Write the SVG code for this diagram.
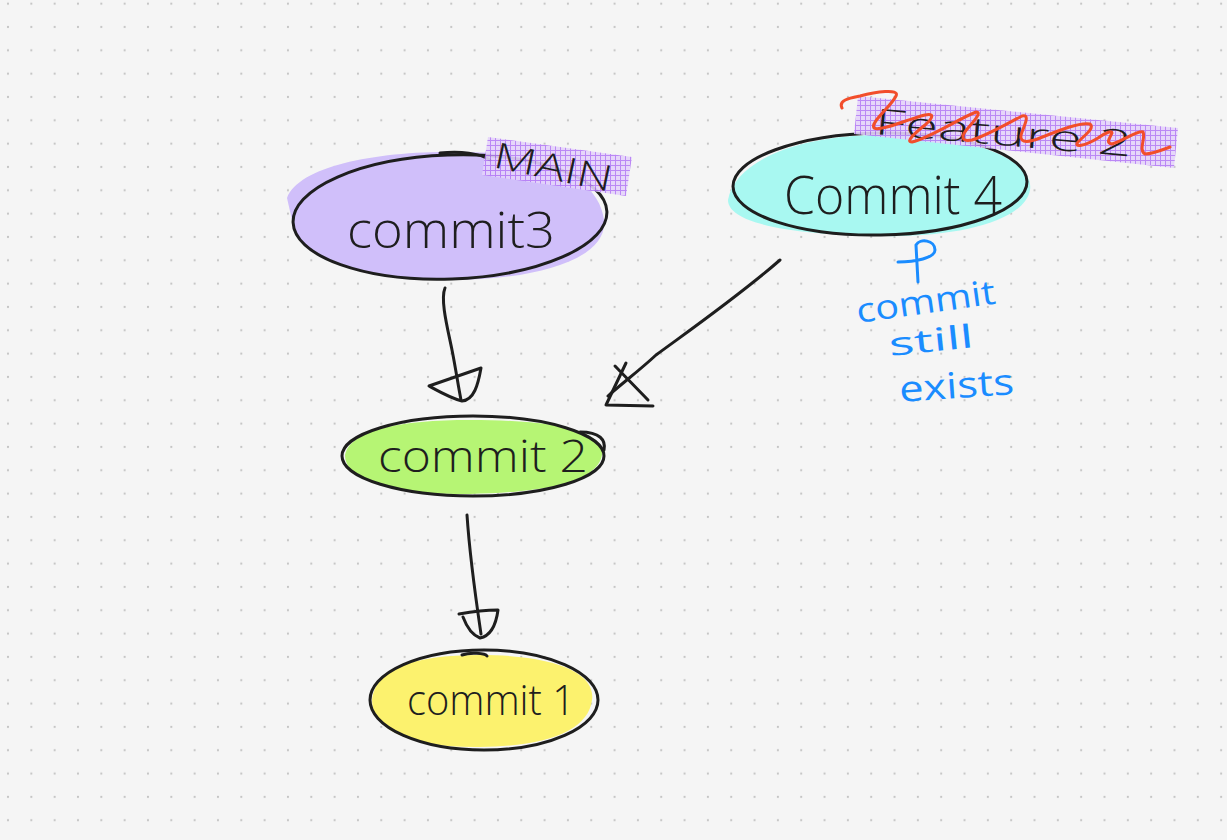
<svg xmlns="http://www.w3.org/2000/svg" width="1227" height="840" viewBox="0 0 1227 840">
<defs>
<pattern id="dots" x="8" y="3.7" width="23.33" height="23.33" patternUnits="userSpaceOnUse">
<circle cx="0" cy="0" r="1.1" fill="#c4c4c4"/><circle cx="23.33" cy="0" r="1.1" fill="#c4c4c4"/><circle cx="0" cy="23.33" r="1.1" fill="#c4c4c4"/><circle cx="23.33" cy="23.33" r="1.1" fill="#c4c4c4"/>
</pattern>
<pattern id="grid" width="5" height="5" patternUnits="userSpaceOnUse">
<rect width="5" height="5" fill="#e4d3fb"/>
<path d="M0,0.5H5M0.5,0V5" stroke="#b57cf5" stroke-width="1"/>
</pattern>
</defs>
<style>
.ink{fill:none;stroke:#1e1e1e;stroke-width:3;stroke-linecap:round;stroke-linejoin:round}
.lbl{font-family:"Open Sans","Liberation Sans",sans-serif;fill:#1e1e1e;font-weight:300}
.blue{font-family:"Open Sans","Liberation Sans",sans-serif;fill:#1a8cff;font-weight:400}
.red{fill:none;stroke:#f24e2b;stroke-width:3;stroke-linecap:round;stroke-linejoin:round}
</style>
<rect width="1227" height="840" fill="#f5f5f5"/>
<rect width="1227" height="840" fill="url(#dots)"/>

<g id="commit3">
<path d="M287,198 C300,165 380,150 470,152 C560,154 600,185 604,220 C608,258 540,280 450,280 C360,280 292,255 292,220 Z" fill="#d0bffa"/>
<ellipse cx="450" cy="217" rx="157" ry="62" class="ink" transform="rotate(-2 450 217)"/>
<path d="M440,153 C460,151 480,153 490,160" class="ink"/>
<text x="347" y="248" class="lbl" font-size="50" textLength="208" lengthAdjust="spacingAndGlyphs">commit3</text>
</g>

<g id="main-tag">
<polygon points="488,137 632,157 626,196 482,175" fill="url(#grid)" opacity="0.9"/>
<text x="492" y="167" class="lbl" font-size="36" font-weight="400" transform="rotate(12 492 167)" textLength="120" lengthAdjust="spacingAndGlyphs">MAIN</text>
</g>

<g id="commit4">
<path d="M728,200 C735,160 800,135 880,135 C970,133 1035,160 1030,190 C1025,220 960,238 880,236 C800,235 728,225 728,200 Z" fill="#a8f8f1"/>
<ellipse cx="880" cy="184" rx="147" ry="51" class="ink" transform="rotate(-1 880 184)"/>
<text x="784" y="214" class="lbl" font-size="54" textLength="218" lengthAdjust="spacingAndGlyphs">Commit 4</text>
</g>

<g id="feature-tag">
<polygon points="858,96 1178,128 1174,168 854,134" fill="url(#grid)" opacity="0.9"/>
<text x="874" y="134" class="lbl" font-size="36" font-weight="400" transform="rotate(5 874 134)" textLength="258" lengthAdjust="spacingAndGlyphs">Feature 2</text>
<path class="red" d="M842,108 C838,100 850,98 860,96 C875,92 900,88 896,96 C890,108 870,122 874,128 C880,132 905,120 925,115 C935,113 933,118 925,125 C915,133 905,142 912,142 C930,138 960,118 976,112 C982,112 975,120 968,128 C960,137 962,142 972,140 C990,134 1010,122 1022,116 C1030,114 1025,124 1022,132 C1018,142 1025,144 1040,138 C1060,130 1080,122 1090,124 C1095,128 1085,135 1078,142 C1073,148 1085,146 1098,138 C1105,133 1112,130 1112,133 C1110,138 1105,143 1112,144 C1125,140 1138,130 1143,132 C1146,138 1138,150 1145,154 C1152,154 1162,150 1170,147"/>
</g>

<g id="note">
<path d="M918,282 L916,245 C920,238 935,240 935,250 C935,258 915,262 898,262" fill="none" stroke="#1a8cff" stroke-width="3" stroke-linecap="round"/>
<text x="858" y="323" class="blue" font-size="34" transform="rotate(-8 858 323)" textLength="140" lengthAdjust="spacingAndGlyphs">commit</text>
<text x="890" y="356" class="blue" font-size="32" transform="rotate(-6 890 356)" textLength="85" lengthAdjust="spacingAndGlyphs">still</text>
<text x="900" y="402" class="blue" font-size="36" transform="rotate(-4 900 402)" textLength="115" lengthAdjust="spacingAndGlyphs">exists</text>
</g>

<g id="commit2">
<path d="M345,455 C350,430 400,420 470,420 C560,420 605,432 602,455 C598,478 560,492 470,494 C390,495 345,480 345,455 Z" fill="#b6f574"/>
<ellipse cx="473" cy="456" rx="131" ry="40" class="ink"/>
<path d="M580,432 C600,432 606,440 604,450" class="ink"/>
<text x="378" y="472" class="lbl" font-size="44" textLength="210" lengthAdjust="spacingAndGlyphs">commit 2</text>
</g>

<g id="commit1">
<path d="M372,700 C375,670 410,655 480,655 C560,655 596,675 592,700 C588,730 550,746 480,747 C410,748 372,730 372,700 Z" fill="#fcf26e"/>
<ellipse cx="484" cy="700" rx="114" ry="50" class="ink"/>
<path d="M462,655 C470,652 485,653 487,656" class="ink"/>
<text x="407" y="715" class="lbl" font-size="42" textLength="168" lengthAdjust="spacingAndGlyphs">commit 1</text>
</g>

<g id="connectors">
<path d="M445,288 C440,300 448,330 452,350 C456,370 458,385 461,400" class="ink"/>
<path d="M429,386 L481,368 C478,385 474,400 462,401 C450,398 440,392 429,386 Z" class="ink"/>
<path d="M780,260 C740,295 690,330 656,355 C640,370 620,385 608,396" class="ink"/>
<path d="M626,363 L606,405 L653,406 M615,366 L648,400" class="ink"/>
<path d="M467,515 C470,560 476,600 481,634" class="ink"/>
<path d="M459,614 C470,612 485,610 498,610 C496,625 490,636 480,638 C472,635 466,625 463,617" class="ink"/>
</g>
</svg>
